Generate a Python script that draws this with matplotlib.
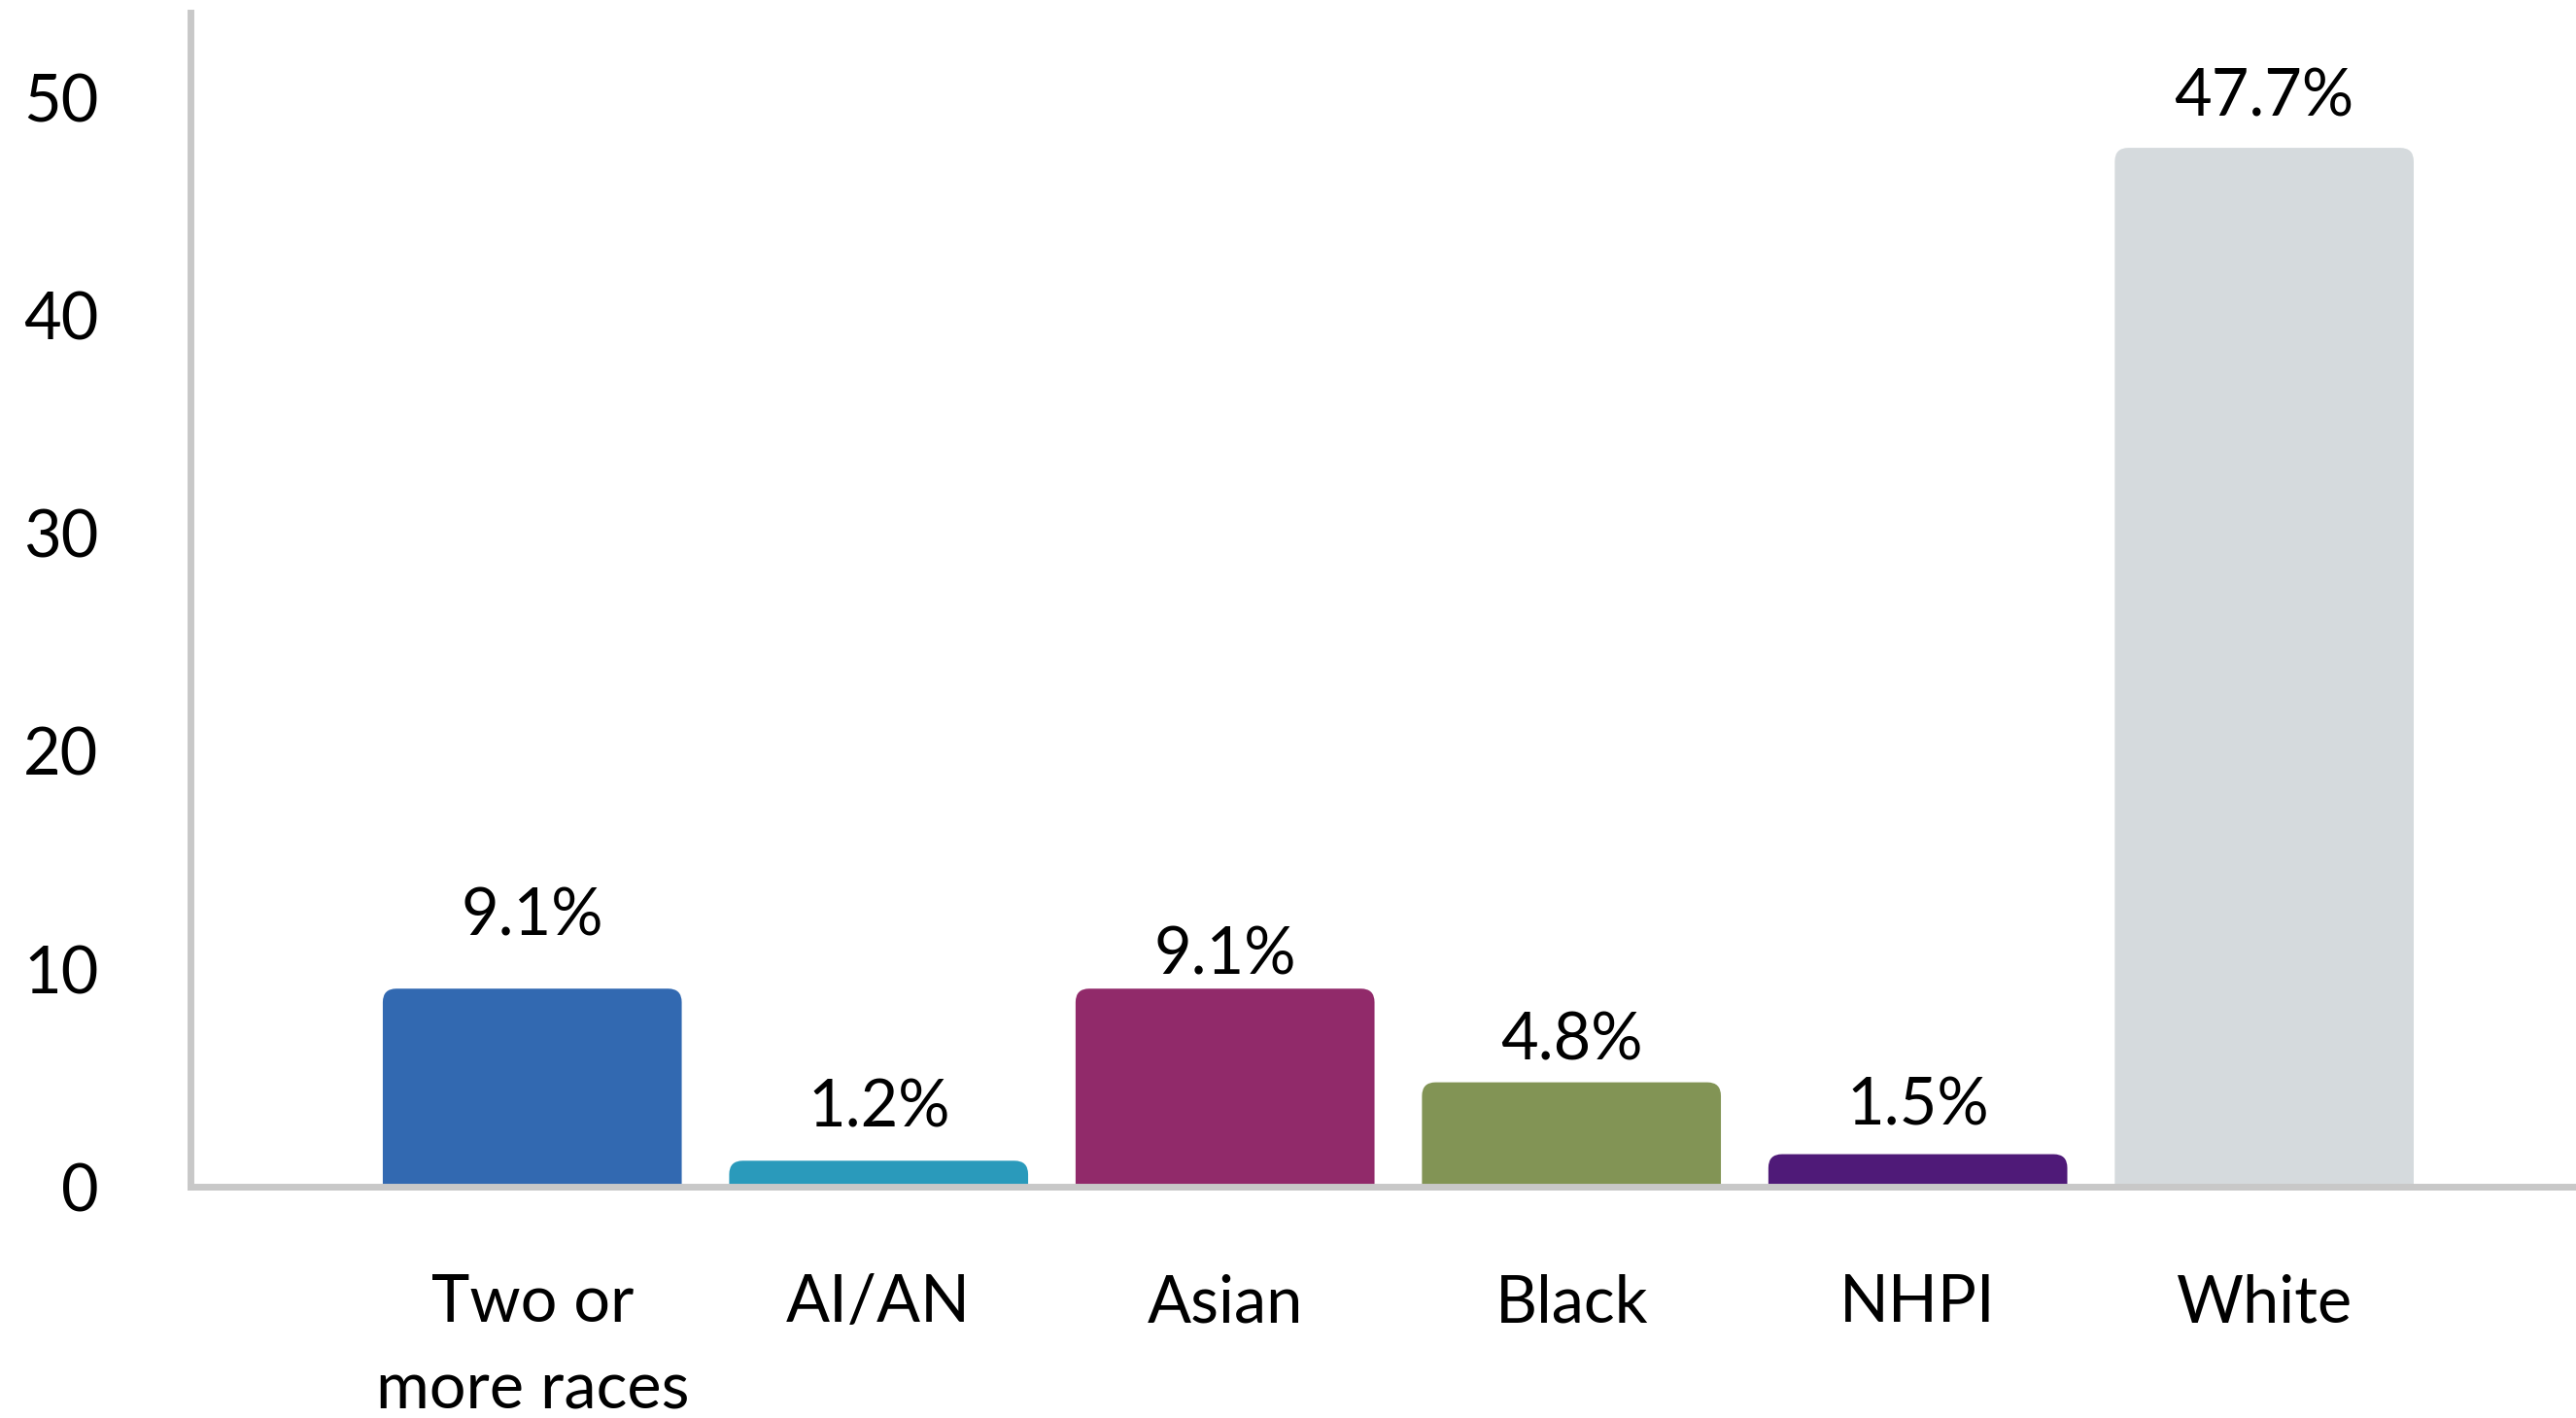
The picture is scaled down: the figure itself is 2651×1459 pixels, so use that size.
import matplotlib.pyplot as plt
from matplotlib.patches import FancyBboxPatch

# data
categories = ["Two or\nmore races", "AI/AN", "Asian", "Black", "NHPI", "White"]
values = [9.1, 1.2, 9.1, 4.8, 1.5, 47.7]
labels = ["9.1%", "1.2%", "9.1%", "4.8%", "1.5%", "47.7%"]
colors = ["#3269b1", "#2a9abb", "#912a6a", "#829455", "#4f1a78", "#d5dadd"]
# how far each value label sits above its bar (points)
label_lift = [53, 39, 24, 30, 35, 37]

plt.rcParams['font.family'] = ['Lato', 'DejaVu Sans']

fig = plt.figure(figsize=(26.51, 14.59), dpi=100)
ax = fig.add_axes([0.0739, 0.163, 0.9261, 0.828])
ax.set_xlim(-0.987, 5.90)
ax.set_ylim(0, 53.9)

bar_w = 0.863
# rounding radius in pixels -> data units
px_x = ax.transData.transform((1, 0))[0] - ax.transData.transform((0, 0))[0]
px_y = ax.transData.transform((0, 1))[1] - ax.transData.transform((0, 0))[1]
r_px = 14
rx = r_px / px_x
ry = r_px / px_y

for i, (v, c) in enumerate(zip(values, colors)):
    patch = FancyBboxPatch((i - bar_w / 2, -2), bar_w, v + 2,
                           boxstyle=f"round,pad=0,rounding_size={rx}",
                           mutation_aspect=ry / rx,
                           facecolor=c, edgecolor="none", clip_on=True)
    ax.add_patch(patch)
    ax.annotate(labels[i], (i, v), xytext=(0, label_lift[i]),
                textcoords="offset points", ha="center", va="center",
                fontsize=48, color="black")

ax.set_xticks(range(len(categories)))
ax.set_xticklabels(categories, fontsize=48, linespacing=1.55)
ax.set_yticks([0, 10, 20, 30, 40, 50])
ax.tick_params(axis="x", length=0, pad=64)
ax.tick_params(axis="y", length=0, pad=68, labelsize=48)

for s in ["top", "right"]:
    ax.spines[s].set_visible(False)
for s in ["left", "bottom"]:
    ax.spines[s].set_color("#c8c8c8")
    ax.spines[s].set_linewidth(5)
    ax.spines[s].set_zorder(5)

fig.savefig("out.png", dpi=100)
